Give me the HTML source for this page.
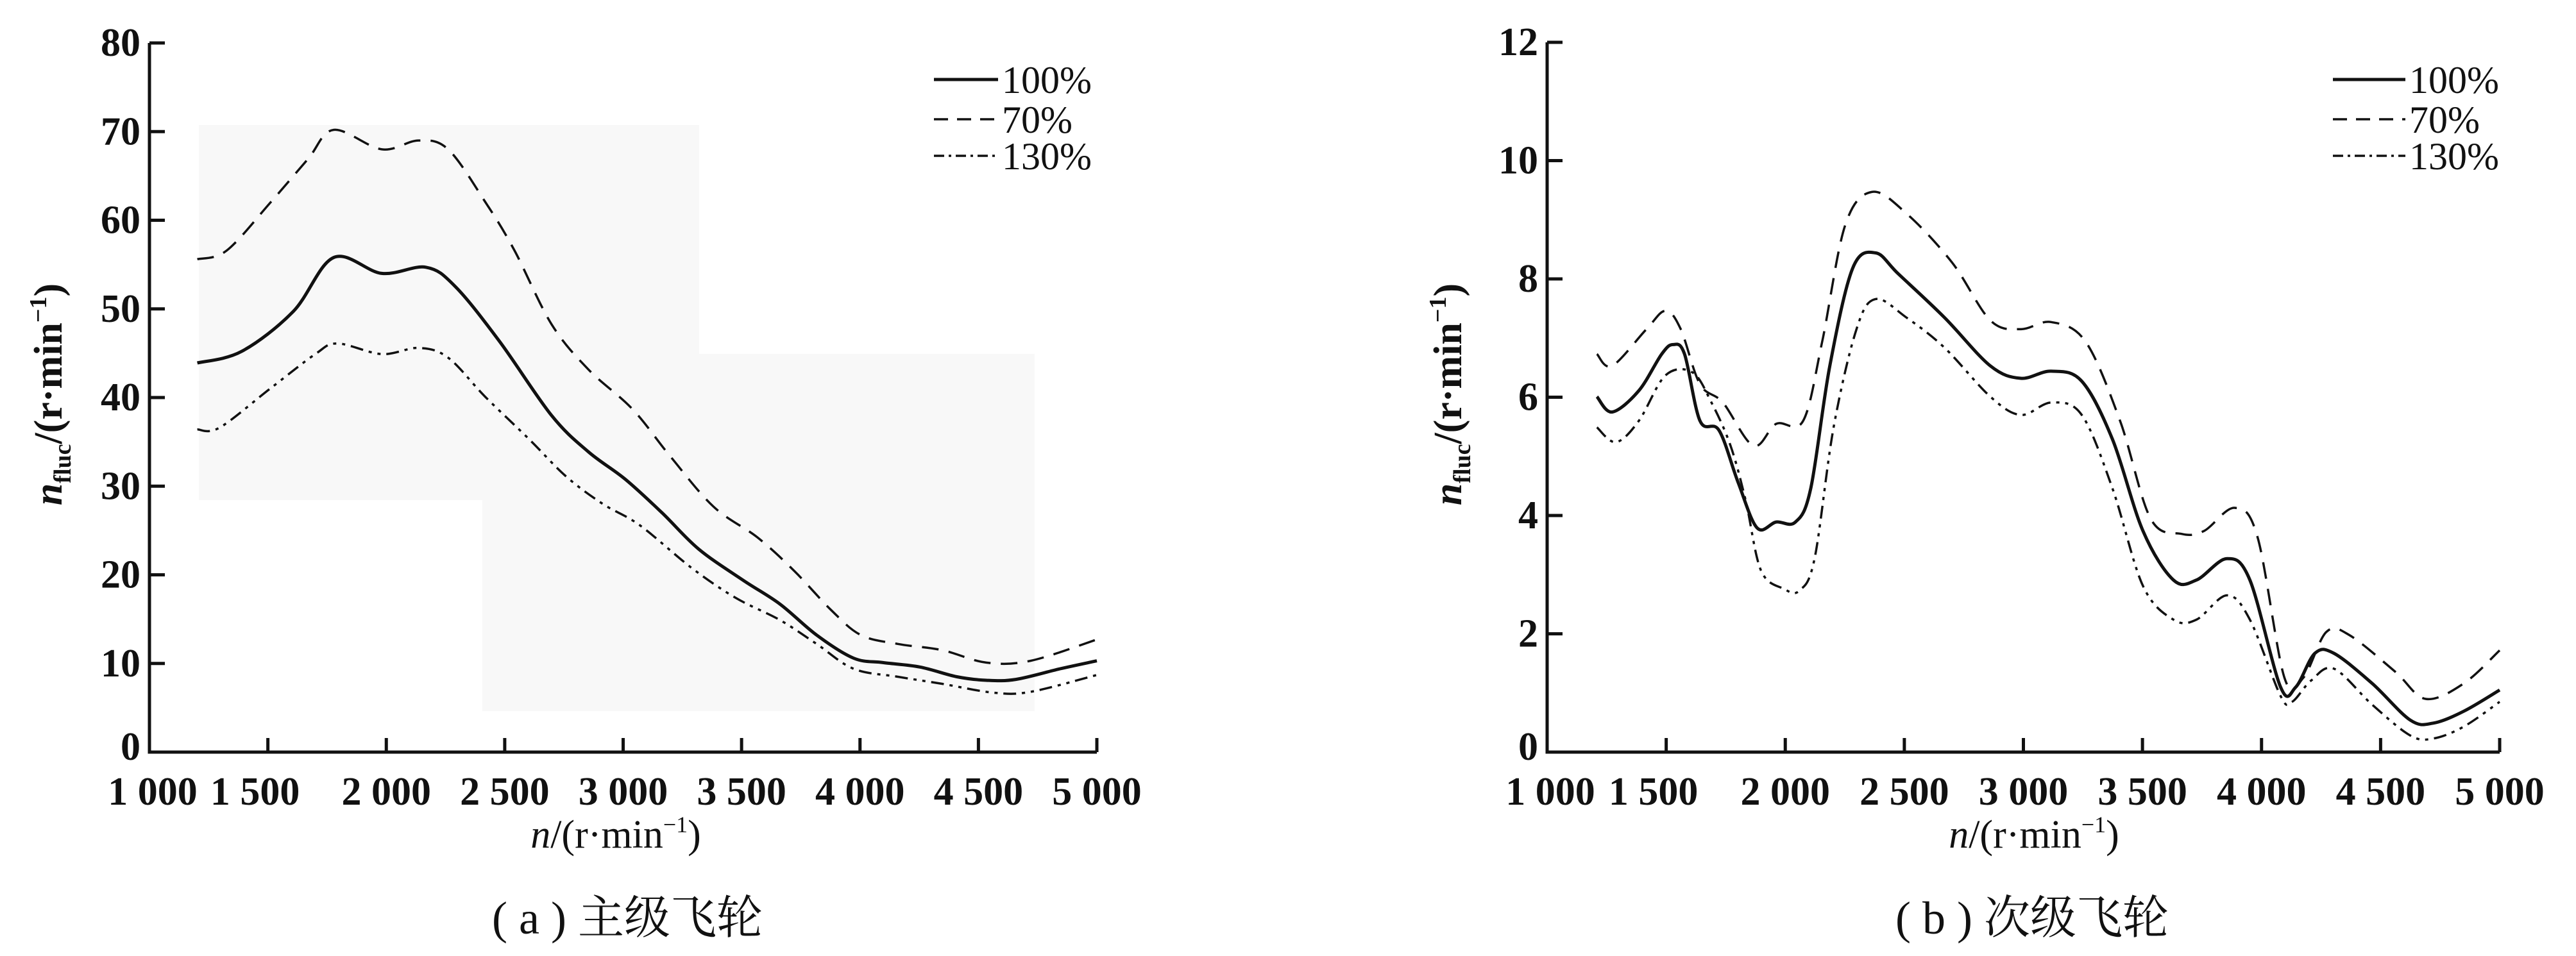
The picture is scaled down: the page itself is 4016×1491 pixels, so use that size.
<!DOCTYPE html>
<html><head><meta charset="utf-8">
<style>
html,body{margin:0;padding:0;background:#fff;}
svg{display:block;}
text{font-family:"Liberation Serif","Noto Serif CJK SC",serif;fill:#111;}
.tick{font-size:62px;font-weight:bold;}
.leg{font-size:60px;}
.ttl{font-size:62px;}
.cap{font-size:72px;}
</style></head>
<body>
<svg id="chart" width="4016" height="1491" viewBox="0 0 4016 1491" xmlns="http://www.w3.org/2000/svg">
<g>
<rect x="310" y="195" width="780" height="585" fill="#f8f8f8"/>
<rect x="752" y="552" width="861" height="557" fill="#f8f8f8"/>
</g>
<g id="panelA"></g>
<g id="panelB"></g>
</svg>
<script>
const xTicks = [1000,1500,2000,2500,3000,3500,4000,4500,5000];
const xTickLabels = ["1 000","1 500","2 000","2 500","3 000","3 500","4 000","4 500","5 000"];
const yTicksA = [0,10,20,30,40,50,60,70,80];
const yTicksB = [0,2,4,6,8,10,12];
const seriesNames = ["100%","70%","130%"];

const a100x = [1202,1389,1607,1778,1981,2167,2292,2479,2697,2852,3008,3164,3319,3506,3662,3817,3973,4097,4253,4409,4533,4658,4845,5000];
const a100y = [43.9,45.2,49.7,55.8,54.0,54.7,52.5,46.3,38.0,33.9,30.8,27.0,22.9,19.4,16.7,13.2,10.6,10.1,9.6,8.5,8.1,8.2,9.4,10.3];
const a70x = [1202,1327,1514,1669,1778,1981,2136,2261,2417,2541,2697,2852,3039,3195,3381,3568,3724,3879,4004,4160,4347,4533,4720,5000];
const a70y = [55.6,56.6,62.1,66.9,70.2,68.0,69.0,68.0,62.1,56.6,48.3,43.2,38.7,33.5,27.7,24.2,20.4,16.0,13.2,12.2,11.5,10.1,10.3,12.7];
const a130x = [1202,1296,1514,1700,1794,1981,2136,2261,2417,2603,2759,2914,3070,3288,3475,3662,3817,3973,4160,4347,4565,4720,5000];
const a130y = [36.4,36.6,41.1,44.9,46.1,44.9,45.6,44.5,40.1,35.3,31.1,28.0,25.6,20.8,17.4,14.9,12.2,9.4,8.5,7.7,6.7,6.8,8.7];

const b100x = [1209,1273,1385,1481,1529,1577,1642,1722,1802,1882,1962,2043,2107,2187,2283,2379,2476,2668,2861,2989,3117,3245,3374,3502,3630,3727,3855,3951,4080,4144,4224,4304,4465,4625,4721,4849,5000];
const b100y = [6.01,5.75,6.11,6.73,6.89,6.73,5.60,5.44,4.56,3.79,3.89,3.89,4.46,6.53,8.18,8.44,8.08,7.35,6.53,6.32,6.44,6.27,5.29,3.74,2.91,2.91,3.27,2.91,1.10,1.10,1.67,1.67,1.16,0.54,0.49,0.69,1.05];
const b70x = [1209,1273,1417,1497,1561,1642,1738,1866,1962,2075,2155,2251,2363,2508,2700,2861,2989,3117,3261,3406,3534,3663,3759,3887,3983,4096,4176,4272,4368,4561,4689,4849,5000];
const b70y = [6.73,6.53,7.15,7.46,7.15,6.22,5.91,5.18,5.55,5.60,6.94,8.90,9.47,9.11,8.28,7.30,7.15,7.27,6.94,5.60,3.95,3.69,3.74,4.13,3.64,1.26,1.26,2.03,1.98,1.36,0.90,1.16,1.72];
const b130x = [1209,1289,1385,1497,1610,1690,1770,1834,1898,1994,2059,2123,2203,2299,2379,2508,2668,2861,2989,3117,3245,3374,3502,3630,3727,3855,3951,4080,4128,4208,4304,4465,4625,4721,4849,5000];
const b130y = [5.49,5.24,5.60,6.37,6.42,5.91,5.18,4.25,3.07,2.76,2.73,3.27,5.49,7.15,7.66,7.35,6.84,6.01,5.70,5.91,5.70,4.46,2.81,2.24,2.24,2.65,2.24,0.95,0.85,1.21,1.41,0.80,0.28,0.23,0.43,0.85];

const NS = "http://www.w3.org/2000/svg";
function mk(parent, tag, attrs, txt){
  const e = document.createElementNS(NS, tag);
  for (const k in attrs) e.setAttribute(k, attrs[k]);
  if (txt !== undefined) e.textContent = txt;
  parent.appendChild(e);
  return e;
}
function smoothPath(pts){
  let d = "M"+pts[0][0].toFixed(1)+","+pts[0][1].toFixed(1);
  for (let i=0;i<pts.length-1;i++){
    const p0=pts[Math.max(0,i-1)], p1=pts[i], p2=pts[i+1], p3=pts[Math.min(pts.length-1,i+2)];
    const c1=[p1[0]+(p2[0]-p0[0])/6, p1[1]+(p2[1]-p0[1])/6];
    const c2=[p2[0]-(p3[0]-p1[0])/6, p2[1]-(p3[1]-p1[1])/6];
    d += " C"+c1[0].toFixed(1)+","+c1[1].toFixed(1)+" "+c2[0].toFixed(1)+","+c2[1].toFixed(1)+" "+p2[0].toFixed(1)+","+p2[1].toFixed(1);
  }
  return d;
}
const styles = [
  {w:5, dash:"none"},
  {w:3.5, dash:"26 16"},
  {w:3.5, dash:"20 9 5 9 5 9"}
];

function drawPanel(g, cfg){
  const X = v => cfg.x0 + (v-1000)/4000*(cfg.x1-cfg.x0);
  const Y = v => cfg.yb - v/cfg.ymax*(cfg.yb-cfg.yt);
  const ax = mk(g,"path",{d:"M"+cfg.x0+","+cfg.yt+" L"+cfg.x0+","+cfg.yb+" L"+cfg.x1+","+cfg.yb,fill:"none",stroke:"#111","stroke-width":5});
  
  
  xTicks.forEach((t,i)=>{
    const tk = mk(g,"line",{x1:X(t),x2:X(t),y1:cfg.yb,y2:cfg.yb-22,stroke:"#111","stroke-width":5});
    
    
    const lb = mk(g,"text",{x:X(t)+(i===0?5:(i===1?-20:0)),y:cfg.yb+82,"text-anchor":"middle",class:"tick"},xTickLabels[i]);
    
    
  });
  cfg.yticks.forEach(t=>{
    const tk = mk(g,"line",{x1:cfg.x0,x2:cfg.x0+24,y1:Y(t),y2:Y(t),stroke:"#111","stroke-width":5});
    
    
    const lb = mk(g,"text",{x:cfg.x0-14,y:Y(t)+(t===0?12:20),"text-anchor":"end",class:"tick"},String(t));
    
    
  });
  cfg.series.forEach((s,i)=>{
    const pts = s[0].map((xv,k)=>[X(xv),Y(s[1][k])]);
    const p = mk(g,"path",{d:smoothPath(pts),fill:"none",stroke:"#111","stroke-width":styles[i].w,"stroke-dasharray":styles[i].dash,"stroke-linejoin":"round"});
    
    
  });
  const ly = [124,186,243];
  seriesNames.forEach((n,i)=>{
    const l = mk(g,"line",{x1:cfg.lx0,x2:cfg.lx1,y1:ly[i],y2:ly[i],stroke:"#111","stroke-width":styles[i].w,"stroke-dasharray":i===1?"22 14":(i===2?"16 7 4 7":"none")});
    
    
    const t = mk(g,"text",{x:cfg.lx1+6,y:ly[i]+21,class:"leg"},n);
    
    
  });
  const xt = mk(g,"text",{x:cfg.xtx,y:1322,"text-anchor":"middle",class:"ttl"});
  
  
  xt.innerHTML = '<tspan font-style="italic">n</tspan>/(r·min<tspan font-size="36" dy="-24">−1</tspan><tspan dy="24">)</tspan>';
  const yt = mk(g,"text",{transform:"translate("+cfg.ytx+",615) rotate(-90)","text-anchor":"middle",class:"ttl","font-weight":"bold"});
  
  
  yt.innerHTML = '<tspan font-style="italic">n</tspan><tspan font-size="38" dy="14">fluc</tspan><tspan dy="-14">/(r·min</tspan><tspan font-size="38" dy="-24">−1</tspan><tspan dy="24">)</tspan>';
  const cp = mk(g,"text",{x:cfg.capx,y:1456,"text-anchor":"middle",class:"cap"},cfg.caption);
  
  
}

drawPanel(document.getElementById("panelA"),{
  x0:233,x1:1710,yt:67,yb:1173,ymax:80,yticks:yTicksA,
  series:[[a100x,a100y],[a70x,a70y],[a130x,a130y]],
  lx0:1456,lx1:1556,xtx:960,ytx:96,capx:978,caption:"( a ) 主级飞轮"
});
drawPanel(document.getElementById("panelB"),{
  x0:2412,x1:3897,yt:66,yb:1173,ymax:12,yticks:yTicksB,
  series:[[b100x,b100y],[b70x,b70y],[b130x,b130y]],
  lx0:3637,lx1:3750,xtx:3171,ytx:2278,capx:3168,caption:"( b ) 次级飞轮"
});
</script>
</body></html>
